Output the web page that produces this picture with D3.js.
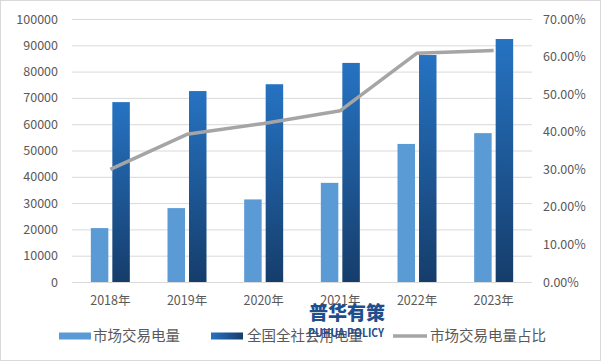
<!DOCTYPE html>
<html><head><meta charset="utf-8">
<script src="https://cdn.jsdelivr.net/npm/d3@7"></script>
<style>body{margin:0;background:#fff}svg{display:block}</style>
</head><body>
<script>
const categories = ["2018年","2019年","2020年","2021年","2022年","2023年"];
const marketVolume = [20500, 28100, 31400, 37700, 52500, 56600];
const totalVolume = [68400, 72600, 75200, 83300, 86300, 92400];
const marketShare = [0.300, 0.393, 0.422, 0.456, 0.609, 0.616];
const leftTicks = [0,10000,20000,30000,40000,50000,60000,70000,80000,90000,100000];
const rightTicks = [0,0.1,0.2,0.3,0.4,0.5,0.6,0.7];
const seriesNames = ["市场交易电量","全国全社会用电量","市场交易电量占比"];

const W=601,H=361;
const svg=d3.select("body").append("svg").attr("width",W).attr("height",H);
const font="'Noto Sans CJK SC','Microsoft YaHei',sans-serif";
svg.append("rect").attr("x",0.5).attr("y",0.5).attr("width",W-1).attr("height",H-1).attr("fill","#fff").attr("stroke","#d9d9d9");

const defs=svg.append("defs");
const g1=defs.append("linearGradient").attr("id","dk").attr("x1",0).attr("y1",0).attr("x2",0).attr("y2",1);
g1.append("stop").attr("offset","0%").attr("stop-color","#2673c2");
g1.append("stop").attr("offset","100%").attr("stop-color","#153d6b");
const g2=defs.append("linearGradient").attr("id","dkl").attr("x1",0).attr("y1",0).attr("x2",1).attr("y2",0);
g2.append("stop").attr("offset","0%").attr("stop-color","#2673c2");
g2.append("stop").attr("offset","100%").attr("stop-color","#153d6b");

const x0=72,x1=532,yTop=19,yBot=282;
const x=d3.scaleBand().domain(categories).range([x0,x1]);
const y=d3.scaleLinear().domain([0,100000]).range([yBot,yTop]);
const y2=d3.scaleLinear().domain([0,0.7]).range([yBot,yTop]);

// grid
svg.append("g").selectAll("line").data(leftTicks).join("line")
  .attr("x1",x0).attr("x2",x1).attr("y1",d=>y(d)+0.5).attr("y2",d=>y(d)+0.5)
  .attr("stroke","#d9d9d9").attr("stroke-width",1);

// left axis
const la=svg.append("g").attr("transform",`translate(${x0-14},0)`)
  .call(d3.axisLeft(y).tickValues(leftTicks).tickSize(0).tickPadding(0).tickFormat(d3.format("d")));
la.select(".domain").remove();
la.selectAll("text").attr("fill","#595959").style("font-family",font).style("font-size","12.5px");

// right axis
const ra=svg.append("g").attr("transform",`translate(${x1+11},0)`)
  .call(d3.axisRight(y2).tickValues(rightTicks).tickSize(0).tickPadding(0).tickFormat(d3.format(".2%")));
ra.select(".domain").remove();
ra.selectAll("text").attr("fill","#595959").style("font-family",font).style("font-size","12.5px");

// bottom axis labels
const ba=svg.append("g").attr("transform",`translate(0,${yBot})`)
  .call(d3.axisBottom(x).tickSize(0).tickPadding(14));
ba.select(".domain").remove();
ba.selectAll("text").attr("fill","#595959").style("font-family",font).style("font-size","12.5px");

const bw=17.5, gap=4;
const cx=d=>x(d)+x.bandwidth()/2;
svg.append("g").selectAll("rect").data(categories).join("rect")
  .attr("x",(d)=>cx(d)-gap/2-bw).attr("width",bw)
  .attr("y",(d,i)=>y(marketVolume[i])).attr("height",(d,i)=>yBot-y(marketVolume[i]))
  .attr("fill","#5b9bd5");
svg.append("g").selectAll("rect").data(categories).join("rect")
  .attr("x",(d)=>cx(d)+gap/2).attr("width",bw)
  .attr("y",(d,i)=>y(totalVolume[i])).attr("height",(d,i)=>yBot-y(totalVolume[i]))
  .attr("fill","url(#dk)");

// line
const line=d3.line().x((d,i)=>cx(categories[i])).y(d=>y2(d));
svg.append("path").datum(marketShare).attr("d",line).attr("fill","none")
  .attr("stroke","#a5a5a5").attr("stroke-width",3.5).attr("stroke-linejoin","round");

// legend
const ly=336;
const leg=svg.append("g");
leg.append("rect").attr("x",59).attr("y",ly-3.5).attr("width",32).attr("height",7).attr("fill","#5b9bd5");
leg.append("text").attr("x",93).attr("y",ly).attr("dy","0.35em").text(seriesNames[0]);
leg.append("rect").attr("x",211).attr("y",ly-3.5).attr("width",32).attr("height",7).attr("fill","url(#dkl)");
leg.append("text").attr("x",247).attr("y",ly).attr("dy","0.35em").text(seriesNames[1]);
leg.append("line").attr("x1",393).attr("x2",427).attr("y1",ly).attr("y2",ly).attr("stroke","#a5a5a5").attr("stroke-width",3.5);
leg.append("text").attr("x",430).attr("y",ly).attr("dy","0.35em").text(seriesNames[2]);
leg.selectAll("text").attr("fill","#595959").style("font-family",font).style("font-size","14.5px");

// watermark
svg.append("text").attr("x",347).attr("y",320).attr("text-anchor","middle")
  .attr("fill","#1f4e8c").style("font-family",font).style("font-size","19px").style("font-weight","900")
  .text("普华有策");
svg.append("text").attr("x",346).attr("y",337).attr("text-anchor","middle")
  .attr("textLength",76).attr("lengthAdjust","spacingAndGlyphs")
  .attr("fill","#1f4e8c").style("font-family",font).style("font-size","11px").style("font-weight","bold")
  .text("PUHUA POLICY");
</script>
</body></html>
